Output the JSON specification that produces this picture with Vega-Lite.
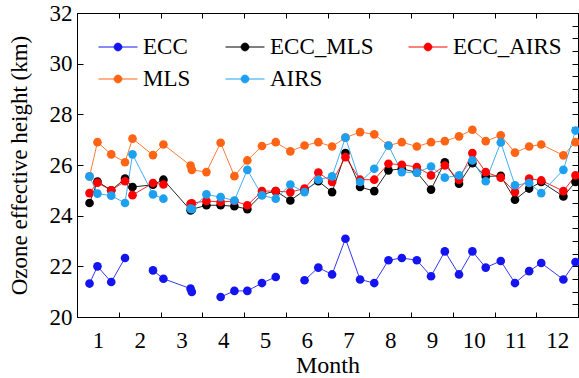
{
  "$schema": "https://vega.github.io/schema/vega-lite/v6.json",
  "width": 501,
  "height": 304,
  "autosize": "none",
  "padding": {"left": 77, "top": 13, "right": 1, "bottom": 61},
  "background": "white",
  "config": {
    "font": "Liberation Serif",
    "view": {"stroke": "black", "strokeWidth": 1},
    "axis": {"domainColor": "black", "tickColor": "black", "labelColor": "black", "titleColor": "black", "grid": false, "labelFont": "Liberation Serif", "titleFont": "Liberation Serif", "titleFontWeight": "normal", "tickWidth": 1, "domainWidth": 1}
  },
  "data": {"values": [
    {"m":0.80,"s":"ECC","h":21.32},{"m":0.99,"s":"ECC","h":22.00},{"m":1.32,"s":"ECC","h":21.38},{"m":1.65,"s":"ECC","h":22.33},{"m":1.83,"s":"ECC","h":null},{"m":2.32,"s":"ECC","h":21.84},{"m":2.57,"s":"ECC","h":21.51},{"m":3.22,"s":"ECC","h":21.12},{"m":3.25,"s":"ECC","h":20.99},{"m":3.60,"s":"ECC","h":null},{"m":3.94,"s":"ECC","h":20.79},{"m":4.27,"s":"ECC","h":21.03},{"m":4.58,"s":"ECC","h":21.03},{"m":4.93,"s":"ECC","h":21.34},{"m":5.26,"s":"ECC","h":21.58},{"m":5.61,"s":"ECC","h":null},{"m":5.95,"s":"ECC","h":21.45},{"m":6.28,"s":"ECC","h":21.95},{"m":6.61,"s":"ECC","h":21.68},{"m":6.93,"s":"ECC","h":23.09},{"m":7.28,"s":"ECC","h":21.48},{"m":7.62,"s":"ECC","h":21.34},{"m":7.96,"s":"ECC","h":22.24},{"m":8.28,"s":"ECC","h":22.33},{"m":8.64,"s":"ECC","h":22.24},{"m":8.98,"s":"ECC","h":21.61},{"m":9.31,"s":"ECC","h":22.59},{"m":9.65,"s":"ECC","h":21.68},{"m":9.97,"s":"ECC","h":22.59},{"m":10.29,"s":"ECC","h":21.95},{"m":10.65,"s":"ECC","h":22.21},{"m":10.99,"s":"ECC","h":21.34},{"m":11.33,"s":"ECC","h":21.81},{"m":11.62,"s":"ECC","h":22.13},{"m":12.15,"s":"ECC","h":21.48},{"m":12.44,"s":"ECC","h":22.17},
    {"m":0.80,"s":"ECC_MLS","h":24.50},{"m":0.99,"s":"ECC_MLS","h":25.35},{"m":1.32,"s":"ECC_MLS","h":25.00},{"m":1.65,"s":"ECC_MLS","h":25.46},{"m":1.83,"s":"ECC_MLS","h":25.13},{"m":2.32,"s":"ECC_MLS","h":25.22},{"m":2.57,"s":"ECC_MLS","h":25.42},{"m":3.22,"s":"ECC_MLS","h":24.21},{"m":3.25,"s":"ECC_MLS","h":24.25},{"m":3.60,"s":"ECC_MLS","h":24.41},{"m":3.94,"s":"ECC_MLS","h":24.41},{"m":4.27,"s":"ECC_MLS","h":24.37},{"m":4.58,"s":"ECC_MLS","h":24.26},{"m":4.93,"s":"ECC_MLS","h":24.84},{"m":5.26,"s":"ECC_MLS","h":24.97},{"m":5.61,"s":"ECC_MLS","h":24.60},{"m":5.95,"s":"ECC_MLS","h":25.00},{"m":6.28,"s":"ECC_MLS","h":25.36},{"m":6.61,"s":"ECC_MLS","h":24.93},{"m":6.93,"s":"ECC_MLS","h":26.47},{"m":7.28,"s":"ECC_MLS","h":25.13},{"m":7.62,"s":"ECC_MLS","h":24.97},{"m":7.96,"s":"ECC_MLS","h":25.79},{"m":8.28,"s":"ECC_MLS","h":25.85},{"m":8.64,"s":"ECC_MLS","h":25.71},{"m":8.98,"s":"ECC_MLS","h":25.03},{"m":9.31,"s":"ECC_MLS","h":26.11},{"m":9.65,"s":"ECC_MLS","h":25.26},{"m":9.97,"s":"ECC_MLS","h":26.07},{"m":10.29,"s":"ECC_MLS","h":25.55},{"m":10.65,"s":"ECC_MLS","h":25.57},{"m":10.99,"s":"ECC_MLS","h":24.63},{"m":11.33,"s":"ECC_MLS","h":25.07},{"m":11.62,"s":"ECC_MLS","h":25.33},{"m":12.15,"s":"ECC_MLS","h":24.76},{"m":12.44,"s":"ECC_MLS","h":25.33},
    {"m":0.80,"s":"ECC_AIRS","h":24.89},{"m":0.99,"s":"ECC_AIRS","h":25.30},{"m":1.32,"s":"ECC_AIRS","h":25.00},{"m":1.65,"s":"ECC_AIRS","h":25.36},{"m":1.83,"s":"ECC_AIRS","h":24.81},{"m":2.32,"s":"ECC_AIRS","h":25.29},{"m":2.57,"s":"ECC_AIRS","h":25.23},{"m":2.90,"s":"ECC_AIRS","h":null},{"m":3.22,"s":"ECC_AIRS","h":24.47},{"m":3.25,"s":"ECC_AIRS","h":24.49},{"m":3.60,"s":"ECC_AIRS","h":24.58},{"m":3.94,"s":"ECC_AIRS","h":24.54},{"m":4.27,"s":"ECC_AIRS","h":24.58},{"m":4.58,"s":"ECC_AIRS","h":24.41},{"m":4.93,"s":"ECC_AIRS","h":24.97},{"m":5.26,"s":"ECC_AIRS","h":24.97},{"m":5.61,"s":"ECC_AIRS","h":24.93},{"m":5.95,"s":"ECC_AIRS","h":25.07},{"m":6.28,"s":"ECC_AIRS","h":25.70},{"m":6.61,"s":"ECC_AIRS","h":25.33},{"m":6.93,"s":"ECC_AIRS","h":26.31},{"m":7.28,"s":"ECC_AIRS","h":25.42},{"m":7.62,"s":"ECC_AIRS","h":25.42},{"m":7.96,"s":"ECC_AIRS","h":26.05},{"m":8.28,"s":"ECC_AIRS","h":26.01},{"m":8.64,"s":"ECC_AIRS","h":25.92},{"m":8.98,"s":"ECC_AIRS","h":25.59},{"m":9.31,"s":"ECC_AIRS","h":25.98},{"m":9.65,"s":"ECC_AIRS","h":25.42},{"m":9.97,"s":"ECC_AIRS","h":26.47},{"m":10.29,"s":"ECC_AIRS","h":25.72},{"m":10.65,"s":"ECC_AIRS","h":25.50},{"m":10.99,"s":"ECC_AIRS","h":24.93},{"m":11.33,"s":"ECC_AIRS","h":25.46},{"m":11.62,"s":"ECC_AIRS","h":25.39},{"m":12.15,"s":"ECC_AIRS","h":24.97},{"m":12.44,"s":"ECC_AIRS","h":25.59},
    {"m":0.80,"s":"MLS","h":25.55},{"m":0.99,"s":"MLS","h":26.90},{"m":1.32,"s":"MLS","h":26.42},{"m":1.65,"s":"MLS","h":26.11},{"m":1.83,"s":"MLS","h":27.04},{"m":2.32,"s":"MLS","h":26.39},{"m":2.57,"s":"MLS","h":26.81},{"m":3.22,"s":"MLS","h":25.98},{"m":3.25,"s":"MLS","h":25.81},{"m":3.60,"s":"MLS","h":25.72},{"m":3.94,"s":"MLS","h":26.88},{"m":4.27,"s":"MLS","h":25.56},{"m":4.58,"s":"MLS","h":26.18},{"m":4.93,"s":"MLS","h":26.75},{"m":5.26,"s":"MLS","h":26.90},{"m":5.61,"s":"MLS","h":26.54},{"m":5.95,"s":"MLS","h":26.77},{"m":6.28,"s":"MLS","h":26.90},{"m":6.61,"s":"MLS","h":26.73},{"m":6.93,"s":"MLS","h":27.08},{"m":7.28,"s":"MLS","h":27.30},{"m":7.62,"s":"MLS","h":27.21},{"m":7.96,"s":"MLS","h":26.77},{"m":8.28,"s":"MLS","h":26.90},{"m":8.64,"s":"MLS","h":26.73},{"m":8.98,"s":"MLS","h":26.90},{"m":9.31,"s":"MLS","h":26.94},{"m":9.65,"s":"MLS","h":27.13},{"m":9.97,"s":"MLS","h":27.39},{"m":10.29,"s":"MLS","h":26.94},{"m":10.65,"s":"MLS","h":27.17},{"m":10.99,"s":"MLS","h":26.49},{"m":11.33,"s":"MLS","h":26.73},{"m":11.62,"s":"MLS","h":26.81},{"m":12.15,"s":"MLS","h":26.38},{"m":12.44,"s":"MLS","h":26.90},
    {"m":0.80,"s":"AIRS","h":25.55},{"m":0.99,"s":"AIRS","h":24.87},{"m":1.32,"s":"AIRS","h":24.79},{"m":1.65,"s":"AIRS","h":24.50},{"m":1.83,"s":"AIRS","h":26.42},{"m":2.32,"s":"AIRS","h":24.84},{"m":2.57,"s":"AIRS","h":24.67},{"m":2.90,"s":"AIRS","h":null},{"m":3.22,"s":"AIRS","h":24.28},{"m":3.25,"s":"AIRS","h":24.26},{"m":3.60,"s":"AIRS","h":24.84},{"m":3.94,"s":"AIRS","h":24.73},{"m":4.27,"s":"AIRS","h":24.60},{"m":4.58,"s":"AIRS","h":25.81},{"m":4.93,"s":"AIRS","h":24.80},{"m":5.26,"s":"AIRS","h":24.67},{"m":5.61,"s":"AIRS","h":25.23},{"m":5.95,"s":"AIRS","h":24.93},{"m":6.28,"s":"AIRS","h":25.42},{"m":6.61,"s":"AIRS","h":25.55},{"m":6.93,"s":"AIRS","h":27.08},{"m":7.28,"s":"AIRS","h":25.33},{"m":7.62,"s":"AIRS","h":25.85},{"m":7.96,"s":"AIRS","h":26.77},{"m":8.28,"s":"AIRS","h":25.72},{"m":8.64,"s":"AIRS","h":25.70},{"m":8.98,"s":"AIRS","h":25.94},{"m":9.31,"s":"AIRS","h":25.50},{"m":9.65,"s":"AIRS","h":25.59},{"m":9.97,"s":"AIRS","h":26.18},{"m":10.29,"s":"AIRS","h":25.36},{"m":10.65,"s":"AIRS","h":26.89},{"m":10.99,"s":"AIRS","h":25.20},{"m":11.33,"s":"AIRS","h":25.29},{"m":11.62,"s":"AIRS","h":24.89},{"m":12.15,"s":"AIRS","h":25.81},{"m":12.44,"s":"AIRS","h":27.36}
  ]},
  "layer": [
    {
      "layer": [
        {
          "mark": {"type": "line", "strokeWidth": 1, "opacity": 0.85, "invalid": "break-paths-filter-domains"},
          "encoding": {
            "x": {"field": "m", "type": "quantitative", "scale": {"domain": [0.5, 12.5], "nice": false, "zero": false},
              "axis": {"values": [1,2,3,4,5,6,7,8,9,10,11,12], "tickOffset": 20.875, "labelOffset": -20.875, "tickSize": -5, "labelFontSize": 23, "labelPadding": 17, "labelFlush": false, "labelOverlap": false, "title": "Month", "titleFontSize": 24, "titlePadding": 1}},
            "y": {"field": "h", "type": "quantitative", "scale": {"domain": [20, 32], "nice": false, "zero": false},
              "axis": {"values": [20,20.5,21,21.5,22,22.5,23,23.5,24,24.5,25,25.5,26,26.5,27,27.5,28,28.5,29,29.5,30,30.5,31,31.5,32], "labelExpr": "datum.value % 2 == 0 ? datum.label : ''", "tickSize": -6, "labelFontSize": 23, "labelPadding": 11, "labelOverlap": false, "labelFlush": false, "title": "Ozone effective height (km)", "titleFontSize": 23, "titlePadding": 18}},
            "color": {"field": "s", "type": "nominal", "scale": {"domain": ["ECC", "ECC_MLS", "ECC_AIRS", "MLS", "AIRS"], "range": ["#1414f0", "#000000", "#ff0000", "#ff6414", "#1ea0f0"]}}
          }
        },
        {
          "mark": {"type": "point", "filled": true, "size": 75, "opacity": 1},
          "encoding": {
            "x": {"field": "m", "type": "quantitative"},
            "y": {"field": "h", "type": "quantitative"},
            "color": {"field": "s", "type": "nominal",
              "legend": {"title": null, "orient": "none", "legendX": 21, "legendY": 14, "columns": 3, "direction": "horizontal", "columnPadding": 32, "rowPadding": 0, "padding": 0, "labelFont": "Liberation Serif", "labelFontSize": 23, "labelColor": "black", "labelOffset": 5, "labelLimit": 300, "symbolType": "M-1,0L1,0M0.2,0A0.2,0.2,0,1,1,-0.2,0A0.2,0.2,0,1,1,0.2,0Z", "symbolSize": 1521, "symbolStrokeWidth": 1, "symbolOpacity": 1,
                "encode": {"symbols": {"update": {"stroke": {"scale": "color", "field": "value"}, "fill": {"scale": "color", "field": "value"}}}}}}
          }
        }
      ]
    },
    {
      "mark": {"type": "point", "opacity": 0},
      "encoding": {
        "x": {"field": "m", "type": "quantitative", "scale": {"domain": [0.5, 12.5], "nice": false, "zero": false},
          "axis": {"orient": "top", "values": [1,2,3,4,5,6,7,8,9,10,11,12], "tickOffset": 20.875, "tickSize": -5, "labels": false, "title": null}},
        "y": {"field": "h", "type": "quantitative", "scale": {"domain": [20, 32], "nice": false, "zero": false},
          "axis": {"orient": "right", "values": [20,20.5,21,21.5,22,22.5,23,23.5,24,24.5,25,25.5,26,26.5,27,27.5,28,28.5,29,29.5,30,30.5,31,31.5,32], "tickSize": -6, "labels": false, "title": null}}
      }
    }
  ],
  "resolve": {"axis": {"x": "independent", "y": "independent"}}
}
